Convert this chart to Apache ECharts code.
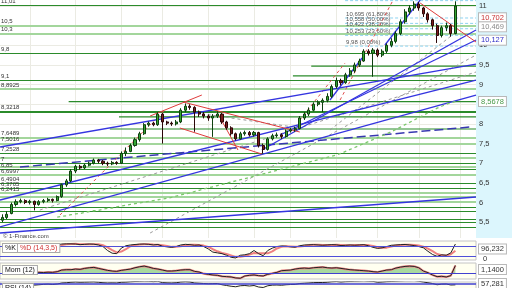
<!DOCTYPE html>
<html><head><meta charset="utf-8">
<script src="https://cdn.jsdelivr.net/npm/echarts@6/dist/echarts.min.js"></script>
<style>html,body{margin:0;padding:0;background:#fff}#c{width:512px;height:288px}</style>
</head><body><div id="c"></div>
<script>
// ---- data ----
// candles: [open, close, low, high]
const candles = [
[5.55,5.62,5.50,5.70],[5.62,5.70,5.58,5.78],[5.72,5.95,5.70,6.00],[5.95,6.02,5.90,6.08],[6.02,6.05,5.98,6.10],
[6.05,6.00,5.96,6.08],[6.00,6.03,5.95,6.07],[6.03,5.95,5.80,6.05],[5.95,6.02,5.92,6.06],[6.02,6.05,5.98,6.09],
[6.05,6.08,6.01,6.12],[6.08,6.05,6.00,6.10],[6.05,6.15,6.03,6.18],[6.15,6.45,6.12,6.48],[6.45,6.55,6.40,6.60],
[6.55,6.80,6.52,6.85],[6.80,6.92,6.75,6.96],[6.92,6.88,6.84,6.96],[6.88,6.95,6.85,6.99],[6.95,7.00,6.92,7.04],
[7.00,7.08,6.97,7.12],[7.08,7.05,7.00,7.11],[7.05,7.00,6.95,7.08],[7.00,6.98,6.93,7.04],[6.98,7.02,6.95,7.06],
[7.02,7.00,6.96,7.05],[7.00,7.25,6.98,7.30],[7.25,7.30,7.18,7.40],[7.30,7.45,7.28,7.50],[7.45,7.60,7.42,7.65],
[7.60,7.75,7.55,7.80],[7.75,7.98,7.72,8.02],[7.98,8.02,7.93,8.06],[8.02,7.98,7.94,8.05],[7.98,8.25,7.95,8.30],
[8.25,8.05,7.50,8.28],[8.05,8.02,7.97,8.08],[8.02,8.00,7.95,8.06],[8.00,8.05,7.96,8.10],[8.05,8.35,8.02,8.40],
[8.35,8.45,8.30,8.52],[8.45,8.42,8.36,8.50],[8.42,8.30,7.80,8.45],[8.30,8.25,8.18,8.34],[8.25,8.20,8.14,8.30],
[8.20,8.15,8.08,8.24],[8.15,8.20,7.67,8.25],[8.20,8.25,8.15,8.32],[8.25,8.05,8.00,8.28],[8.05,7.90,7.85,8.08],
[7.90,7.75,7.70,7.94],[7.75,7.62,7.58,7.78],[7.62,7.75,7.60,7.80],[7.75,7.78,7.70,7.83],[7.78,7.72,7.68,7.82],
[7.72,7.78,7.68,7.82],[7.78,7.45,7.40,7.80],[7.45,7.35,7.25,7.50],[7.35,7.62,7.32,7.66],[7.62,7.70,7.58,7.75],
[7.70,7.72,7.65,7.78],[7.72,7.68,7.62,7.76],[7.68,7.82,7.65,7.86],[7.82,7.85,7.78,7.90],[7.85,7.88,7.80,7.93],
[7.88,8.15,7.86,8.20],[8.15,8.25,8.10,8.30],[8.25,8.35,8.20,8.42],[8.35,8.50,8.32,8.55],[8.50,8.55,8.45,8.60],
[8.55,8.60,8.30,8.65],[8.60,8.70,8.55,8.78],[8.70,8.95,8.66,9.00],[8.95,9.10,8.90,9.18],[9.10,9.05,8.98,9.15],
[9.05,9.25,9.02,9.30],[9.25,9.35,9.20,9.42],[9.35,9.50,9.30,9.56],[9.50,9.60,9.45,9.66],[9.60,9.85,9.58,9.90],
[9.85,9.80,9.74,9.90],[9.80,9.88,9.20,9.93],[9.88,9.75,9.70,9.92],[9.75,9.85,9.70,9.90],[9.85,10.00,9.80,10.05],
[10.00,10.10,9.95,10.18],[10.10,10.30,10.05,10.36],[10.30,10.60,10.26,10.66],[10.60,10.85,10.55,10.92],[10.85,10.95,10.78,11.02],
[10.95,11.05,10.88,11.12],[11.05,10.95,10.88,11.10],[10.95,10.80,10.72,10.98],[10.80,10.65,10.58,10.84],[10.65,10.50,10.40,10.68],
[10.50,10.25,10.06,10.55],[10.25,10.45,10.20,10.50],[10.45,10.50,10.36,10.58],[10.50,10.30,10.22,10.54],[10.30,11.00,10.28,11.12]
];
const emptySlots = 4;
const maLine = [null,null,null,null,null,null,null,null,null,null,null,null,
5.63,5.65,5.66,5.69,5.71,5.72,5.75,5.77,5.79,5.80,5.83,5.85,5.86,5.89,5.91,5.93,5.95,5.97,
5.99,6.01,6.03,6.05,6.07,6.09,6.11,6.13,6.16,6.19,6.22,6.24,6.28,6.31,6.34,6.37,6.40,6.43,6.46,6.49,
6.52,6.55,6.58,6.61,6.64,6.67,6.70,6.73,6.76,6.79,6.82,6.85,6.88,6.91,6.94,6.97,7.00,7.03,7.06,7.09,
7.12,7.15,7.18,7.21,7.25,7.30,7.35,7.40,7.45,7.50,7.55,7.60,7.65,7.70,7.75,7.80,7.86,7.92,7.98,8.04,
8.10,8.16,8.22,8.28,8.34,8.40,8.45,8.50,8.54,8.57];
const stochK = [88,92,95,96,94,90,88,70,78,85,88,84,90,96,97,97,96,92,94,96,
95,90,80,55,38,35,70,85,90,93,95,96,94,90,93,82,78,75,80,90,
94,92,88,90,80,65,45,40,35,25,12,8,25,28,35,55,35,22,55,70,
80,84,82,78,76,85,90,91,92,90,88,90,92,91,86,88,90,88,90,92,
85,75,68,72,80,88,90,92,93,90,86,80,72,50,30,18,28,25,40,96];
const stochD = [85,88,92,94,95,93,91,84,79,78,84,86,87,90,94,96,97,95,94,94,
95,94,88,75,58,43,48,63,82,89,93,95,95,93,92,88,84,78,78,82,
88,92,91,90,86,78,63,50,40,33,24,15,15,20,29,39,38,37,37,49,
68,78,82,81,79,80,84,89,91,91,90,89,90,91,90,88,88,89,89,90,
89,84,76,72,73,80,86,90,92,92,90,86,79,67,51,33,25,24,31,54];
const momentum = [null,null,null,null,null,null,null,
0.05,0.1,0.08,0.12,0.1,0.2,0.45,0.5,0.5,0.6,0.55,0.7,0.8,0.85,0.7,0.55,0.4,0.3,0.25,0.4,0.5,0.6,0.8,
0.95,1.05,0.9,0.7,0.6,0.45,0.3,0.3,0.35,0.45,0.5,0.5,0.25,0.15,-0.1,-0.2,-0.3,-0.35,-0.5,-0.55,
-0.6,-0.75,-0.8,-0.45,-0.35,-0.3,-0.4,-0.45,-0.2,-0.05,0.1,0.35,0.4,0.45,0.6,0.7,0.75,0.7,0.8,0.85,
0.9,0.8,0.75,0.8,0.7,0.6,0.5,0.45,0.4,0.35,0.3,0.2,0.15,0.3,0.45,0.5,0.75,0.9,1.0,1.05,
1.0,0.8,0.3,0.05,-0.3,-0.55,-0.5,-0.6,-0.4,1.14];
const rsi = [55,58,62,64,65,62,63,55,58,61,63,60,64,72,74,78,80,78,79,80,
81,78,74,72,73,72,78,79,82,84,85,87,86,83,86,75,73,72,74,80,
82,80,72,70,68,66,67,68,58,52,46,42,50,52,48,52,40,36,50,55,
56,54,58,60,61,68,70,72,75,76,76,78,82,84,80,83,84,86,87,89,
86,85,78,80,83,84,86,88,90,90,91,86,80,74,68,58,63,64,56,57.281];

const priceTicks = [5.5,6,6.5,7,7.5,8,8.5,9,9.5,10,10.5,11];
const monthStarts = [6,16,26,35,45,55,63,73,82,91,100];

// labelled support / resistance levels
const levelPrices = [11.01,10.5,10.3,9.8,9.1,8.8925,8.3218,7.6489,7.5016,7.2528,7,6.85,6.6997,6.4904,6.3705,6.2415];
const levelLabels = ['11,01','10,5','10,3','9,8','9,1','8,8925','8,3218','7,6489','7,5016','7,2528','7','6,85','6,6997','6,4904','6,3705','6,2415'];
const levelLight  = [0,1,1,0,0,1,0,1,1,0,0,0,1,0,0,1];
// unlabelled levels
const extraLevels = [7.13,6.92,6.14,6.01,5.88,5.78,5.58,5.5,5.38];
const extraLight  = [1,1,1,1,0,0,0,0,0];
// levels starting later in time (candle index)
const partialLevels = [9.47,9.22,8.5678,8.18,7.87];
const partialStart  = [68,64,15,26,24];

// Fibonacci retracement
const fibPrices = [11.137,10.695,10.558,10.422,10.253,9.98];
const fibLabels = ['11,137 (100,00%)','10,695 (61,80%)','10,558 (50,00%)','10,422 (38,20%)','10,253 (23,60%)','9,98 (0,00%)'];
const fibStart = 74.9;

// trend lines [idx1, price1, idx2, price2]
const blueLines = [[-0.5,5.224,103.5,6.140],[-0.5,7.412,103.5,9.524],[-0.5,5.377,103.5,8.735],[-0.5,6.064,103.5,9.117],
  [56.7,7.336,103.5,10.389],[60.7,7.718,103.5,10.135],[71.6,8.608,78.6,9.677],[83.6,10.008,91.3,11.153]];
const blueDashLines = [[3.87,6.903,102.2,7.921]];
const redLines = [[91.3,11.076,103.5,10.084],[39.5,8.557,65.0,7.794],[38.8,7.896,56.7,7.234],[46.9,8.303,51.5,7.336],[32.3,8.201,43.6,8.735]];
const redDashLines = [[12.6,5.682,35.5,8.354],[65.0,8.099,74.9,9.550],[73.8,8.608,85.4,11.153]];
const grayDashLines = [[32.3,5.224,103.5,9.753],[8.2,5.809,103.5,9.321],[41.0,8.303,65.0,7.896],[71.6,7.845,98.9,10.313]];

// last-value boxes on the price scale
const boxPrices = [10.702,10.469,10.127,8.5678];
const boxTexts = ['10,702','10,469','10,127','8,5678'];
const stochLast = 96.232, momLast = 1.14, rsiLast = 57.281;

// ---- chart ----
const fmt = v => String(v).replace('.', ',');
const cats = Array.from({length: candles.length + emptySlots}, (_, i) => String(i));
const DARK = '#2b8b2b', LIGHT = '#a3d69c';
const boxColors = ['#c83232','#8a8a8a','#3030c8','#4a9a4a'];
const CLEAR = 'rgba(0,0,0,0)';
const boxLabel = (text, color, extra) => Object.assign({show: true, position: 'end', formatter: text, color: color, fontSize: 7.5,
  fontFamily: 'Liberation Sans', backgroundColor: '#fff', borderColor: '#b8b8b8', borderWidth: 1, padding: [1, 2, 0, 2], distance: 3}, extra || {});

const mlData = [];
priceTicks.forEach(v => mlData.push({yAxis: v, lineStyle: {color: '#ebebe3', width: 1, type: 'solid'}, label: {show: false}}));
monthStarts.forEach(i => mlData.push({xAxis: cats[i], lineStyle: {color: '#ebebe3', width: 1, type: 'solid'}, label: {show: false}}));
extraLevels.forEach((v, k) => mlData.push({yAxis: v, lineStyle: {color: extraLight[k] ? LIGHT : DARK, width: extraLight[k] ? 2 : 1.2, type: 'solid'}, label: {show: false}}));
levelPrices.forEach((v, k) => mlData.push({yAxis: v,
  lineStyle: {color: levelLight[k] ? LIGHT : DARK, width: levelLight[k] ? 2 : (v === 8.3218 ? 2 : 1.2), type: 'solid'},
  label: {show: true, position: 'insideStartTop', formatter: levelLabels[k], color: '#333', fontSize: 6, fontFamily: 'Liberation Sans', distance: 1}}));
boxPrices.forEach((v, k) => mlData.push({yAxis: v, lineStyle: {color: CLEAR, width: 0}, label: boxLabel(boxTexts[k], boxColors[k])}));

const series = [];
series.push({type: 'candlestick', xAxisIndex: 0, yAxisIndex: 0, data: candles, barWidth: 2.6, z: 5,
  itemStyle: {color: '#33a533', color0: '#7a1c1c', borderColor: '#0e3f0e', borderColor0: '#2a0606', borderWidth: 1},
  markLine: {silent: true, symbol: ['none', 'none'], animation: false, z: 1, data: mlData}});

function segSeries(list, color, width, type, z) {
  list.forEach(s => series.push({type: 'line', xAxisIndex: 1, yAxisIndex: 0, data: [[s[0], s[1]], [s[2], s[3]]],
    showSymbol: false, silent: true, z: z, lineStyle: {color: color, width: width, type: type}}));
}
partialLevels.forEach((v, k) => series.push({type: 'line', xAxisIndex: 1, yAxisIndex: 0, data: [[partialStart[k] - 0.5, v], [103.5, v]],
  showSymbol: false, silent: true, z: 2, lineStyle: {color: DARK, width: 1.2}}));
fibPrices.forEach((v, k) => series.push({type: 'line', xAxisIndex: 1, yAxisIndex: 0,
  data: [{value: [fibStart, v], symbolSize: 0, label: {show: true, position: 'right', distance: 1, offset: [0, -4], formatter: fibLabels[k],
    color: '#555', fontSize: 6, fontFamily: 'Liberation Sans'}}, {value: [103.5, v], symbolSize: 0}],
  showSymbol: true, symbol: 'circle', symbolSize: 0, silent: true, z: 3, lineStyle: {color: '#8cd2f0', width: 1, type: [3, 2]}}));
segSeries(grayDashLines, '#9a9a9a', 1, [3, 3], 3);
segSeries(blueDashLines, '#3838b0', 1.5, [9, 4], 4);
segSeries(redDashLines, '#e05050', 1, [3, 3], 4);
segSeries(blueLines, '#3535e0', 1.3, 'solid', 4);
segSeries(redLines, '#e03c3c', 1, 'solid', 4);
series.push({type: 'line', xAxisIndex: 0, yAxisIndex: 0, data: maLine, showSymbol: false, silent: true, z: 4,
  lineStyle: {color: '#7cc86c', width: 1.3, type: [3, 3]}});

// stochastic
series.push({type: 'line', xAxisIndex: 2, yAxisIndex: 1, data: stochD, showSymbol: false, silent: true,
  lineStyle: {color: '#ee8080', width: 2},
  markLine: {silent: true, symbol: ['none', 'none'], animation: false, data: [
    {yAxis: 80, lineStyle: {color: '#5050d8', width: 1, type: 'solid'}, label: {show: false}},
    {yAxis: 20, lineStyle: {color: '#5050d8', width: 1, type: 'solid'}, label: {show: false}},
    {yAxis: stochLast, lineStyle: {color: CLEAR, width: 0}, label: boxLabel(fmt(stochLast), '#333', {offset: [0, 5]})}]}});
series.push({type: 'line', xAxisIndex: 2, yAxisIndex: 1, data: stochK, showSymbol: false, silent: true,
  lineStyle: {color: '#222', width: 1}});

// momentum
series.push({type: 'line', xAxisIndex: 3, yAxisIndex: 2, data: momentum.map(v => v === null ? null : Math.max(v, 0)),
  showSymbol: false, silent: true, lineStyle: {width: 0}, areaStyle: {color: '#a8d8a0', opacity: 1}});
series.push({type: 'line', xAxisIndex: 3, yAxisIndex: 2, data: momentum, showSymbol: false, silent: true,
  lineStyle: {color: '#ee8a8a', width: 2.2},
  markLine: {silent: true, symbol: ['none', 'none'], animation: false, data: [
    {yAxis: 0, lineStyle: {color: '#4040d0', width: 1.2, type: 'solid'}, label: {show: false}},
    {yAxis: momLast, lineStyle: {color: CLEAR, width: 0}, label: boxLabel('1,1400', '#333', {offset: [0, 4]})}]}});
series.push({type: 'line', xAxisIndex: 3, yAxisIndex: 2, data: momentum, showSymbol: false, silent: true,
  lineStyle: {color: '#222', width: 1}});

// RSI
series.push({type: 'line', xAxisIndex: 4, yAxisIndex: 3, data: rsi, showSymbol: false, silent: true,
  lineStyle: {color: '#222', width: 1},
  markLine: {silent: true, symbol: ['none', 'none'], animation: false, data: [
    {yAxis: 70, lineStyle: {color: '#4040d0', width: 1.5, type: 'solid'}, label: {show: false}},
    {yAxis: 68, lineStyle: {color: CLEAR, width: 0}, label: boxLabel(fmt(rsiLast), '#333')}]}});

const hiddenCat = g => ({type: 'category', gridIndex: g, data: cats, boundaryGap: true, show: false});
const panelBox = (top, h) => ({left: 0, right: 36, top: top, height: h, show: true, backgroundColor: '#fffff0', borderColor: '#c4c4c4', borderWidth: 1});

const option = {
  animation: false,
  backgroundColor: '#ffffff',
  grid: [
    {left: 0, right: 36, top: 0, height: 238, show: true, backgroundColor: '#ffffff', borderWidth: 0},
    panelBox(241, 19), panelBox(263, 16), panelBox(282, 30)
  ],
  xAxis: [hiddenCat(0), {type: 'value', gridIndex: 0, min: -0.5, max: 103.5, show: false}, hiddenCat(1), hiddenCat(2), hiddenCat(3)],
  yAxis: [
    {type: 'value', gridIndex: 0, position: 'right', min: 5.097, max: 11.153, splitLine: {show: false}, axisLine: {show: false},
      axisTick: {show: true, length: 4, lineStyle: {color: '#555'}, customValues: priceTicks},
      axisLabel: {customValues: priceTicks, formatter: fmt, color: '#333', fontSize: 7.5, fontFamily: 'Liberation Sans', margin: 3}},
    {type: 'value', gridIndex: 1, position: 'right', min: -5, max: 115, splitLine: {show: false}, axisLine: {show: false},
      axisTick: {show: false}, axisLabel: {customValues: [0], color: '#333', fontSize: 7.5, fontFamily: 'Liberation Sans', margin: 7}},
    {type: 'value', gridIndex: 2, position: 'right', min: -0.91, max: 1.52, splitLine: {show: false}, axisLine: {show: false},
      axisTick: {show: false}, axisLabel: {customValues: [0], color: '#333', fontSize: 7.5, fontFamily: 'Liberation Sans', margin: 7}},
    {type: 'value', gridIndex: 3, position: 'right', min: 20, max: 80, splitLine: {show: false}, axisLine: {show: false},
      axisTick: {show: false}, axisLabel: {show: false}}
  ],
  graphic: [
    {type: 'rect', z: -100, shape: {x: 476, y: 0, width: 36, height: 238}, style: {fill: '#dcf6fd'}},
    {type: 'text', z: 100, left: 3, top: 233, style: {text: '© 1-Finance.com', fill: '#444', font: '6px "Liberation Sans"'}},
    {type: 'text', z: 100, left: 2, top: 243, style: {text: '%K', fill: '#111', font: '7px "Liberation Sans"', backgroundColor: '#fff', borderColor: '#aaa', borderWidth: 1, padding: [1, 2, 0, 2]}},
    {type: 'text', z: 100, left: 17, top: 243, style: {text: '%D (14,3,5)', fill: '#d03030', font: '7px "Liberation Sans"', backgroundColor: '#fff', borderColor: '#aaa', borderWidth: 1, padding: [1, 2, 0, 2]}},
    {type: 'text', z: 100, left: 2, top: 265, style: {text: 'Mom (12)', fill: '#111', font: '7px "Liberation Sans"', backgroundColor: '#fff', borderColor: '#aaa', borderWidth: 1, padding: [1, 2, 0, 2]}},
    {type: 'text', z: 100, left: 2, top: 283, style: {text: 'RSI (14)', fill: '#111', font: '7px "Liberation Sans"', backgroundColor: '#fff', borderColor: '#aaa', borderWidth: 1, padding: [1, 2, 0, 2]}}
  ],
  series: series
};
const chart = echarts.init(document.getElementById('c'), null, {renderer: 'canvas'});
chart.setOption(option);
</script></body></html>
